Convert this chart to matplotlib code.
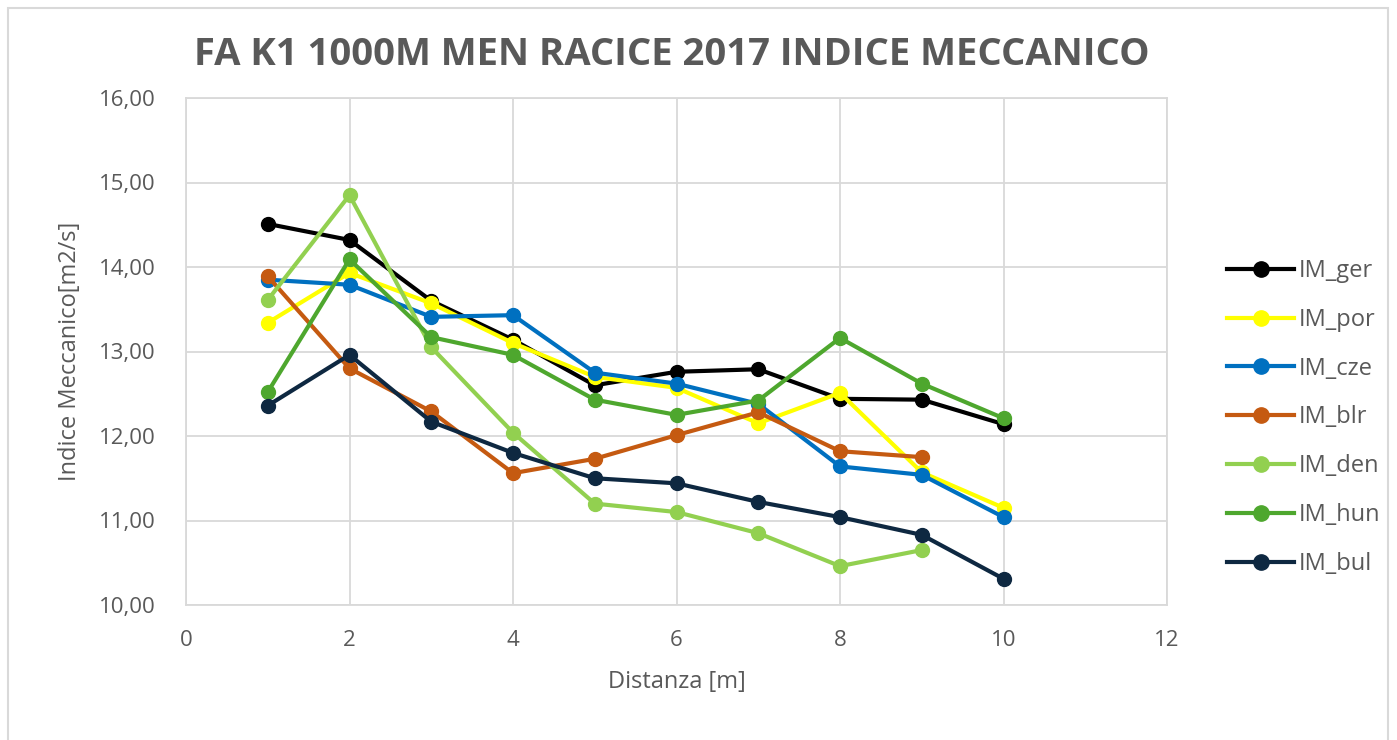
import matplotlib.pyplot as plt
from matplotlib.patches import Rectangle
from matplotlib.ticker import FuncFormatter

plt.rcParams['font.family'] = ['Open Sans', 'DejaVu Sans']

x = [1, 2, 3, 4, 5, 6, 7, 8, 9, 10]

im_ger = [14.51, 14.32, 13.60, 13.14, 12.60, 12.76, 12.79, 12.44, 12.43, 12.14]
im_por = [13.34, 13.93, 13.57, 13.10, 12.70, 12.57, 12.15, 12.51, 11.57, 11.15]
im_cze = [13.85, 13.79, 13.41, 13.43, 12.75, 12.62, 12.38, 11.64, 11.54, 11.04]
im_blr = [13.89, 12.80, 12.29, 11.56, 11.73, 12.01, 12.28, 11.82, 11.75]
im_den = [13.61, 14.85, 13.05, 12.04, 11.20, 11.10, 10.85, 10.46, 10.65]
im_hun = [12.52, 14.09, 13.17, 12.96, 12.43, 12.25, 12.42, 13.16, 12.62, 12.21]
im_bul = [12.36, 12.96, 12.17, 11.80, 11.50, 11.44, 11.22, 11.04, 10.83, 10.31]

series = [
    ("IM_ger", im_ger, "#000000"),
    ("IM_por", im_por, "#FFFF00"),
    ("IM_cze", im_cze, "#0070C0"),
    ("IM_blr", im_blr, "#C55A11"),
    ("IM_den", im_den, "#92D050"),
    ("IM_hun", im_hun, "#4EA72E"),
    ("IM_bul", im_bul, "#0E2841"),
]

fig = plt.figure(figsize=(13.97, 7.40), dpi=100)
ax = fig.add_axes([186 / 1397, 1 - 605 / 740, (1167 - 186) / 1397, (605 - 98) / 740])

# chart area border
fig.patches.append(Rectangle((8 / 1397, -0.01), 1388 / 1397 - 8 / 1397, 1 - 8 / 740 + 0.01,
                             transform=fig.transFigure, fill=False, edgecolor="#D9D9D9", lw=1.5))

for name, vals, col in series:
    ax.plot(x[:len(vals)], vals, color=col, lw=3, marker="o", markersize=10, label=name)

ax.set_xlim(0, 12)
ax.set_ylim(10, 16)
ax.set_xticks(range(0, 13, 2))
ax.set_yticks(range(10, 17))
ax.yaxis.set_major_formatter(FuncFormatter(lambda v, p: f"{v:.2f}".replace(".", ",")))
ax.grid(True, color="#D9D9D9", lw=1.3)
ax.set_axisbelow(True)
for s in ax.spines.values():
    s.set_color("#D9D9D9")
    s.set_linewidth(1.3)
ax.tick_params(length=0, labelsize=16, colors="#595959")
ax.tick_params(axis="y", pad=22)
ax.tick_params(axis="x", pad=18)

ax.set_xlabel("Distanza [m]", fontsize=17, color="#595959", labelpad=14)
ax.set_ylabel("Indice Meccanico[m2/s]", fontsize=17, color="#595959", labelpad=12)
fig.text(672 / 1397, 1 - 55 / 740, "FA K1 1000M MEN RACICE 2017 INDICE MECCANICO",
         ha="center", va="center", fontsize=27.5, fontweight="bold", color="#595959")

ax.legend(loc="center left", bbox_to_anchor=(1.04, 0.37), frameon=False, fontsize=17,
          labelcolor="#595959", handlelength=2.8, handletextpad=0.2, labelspacing=1.05,
          markerscale=1.1)

fig.savefig("out.png", dpi=100)
